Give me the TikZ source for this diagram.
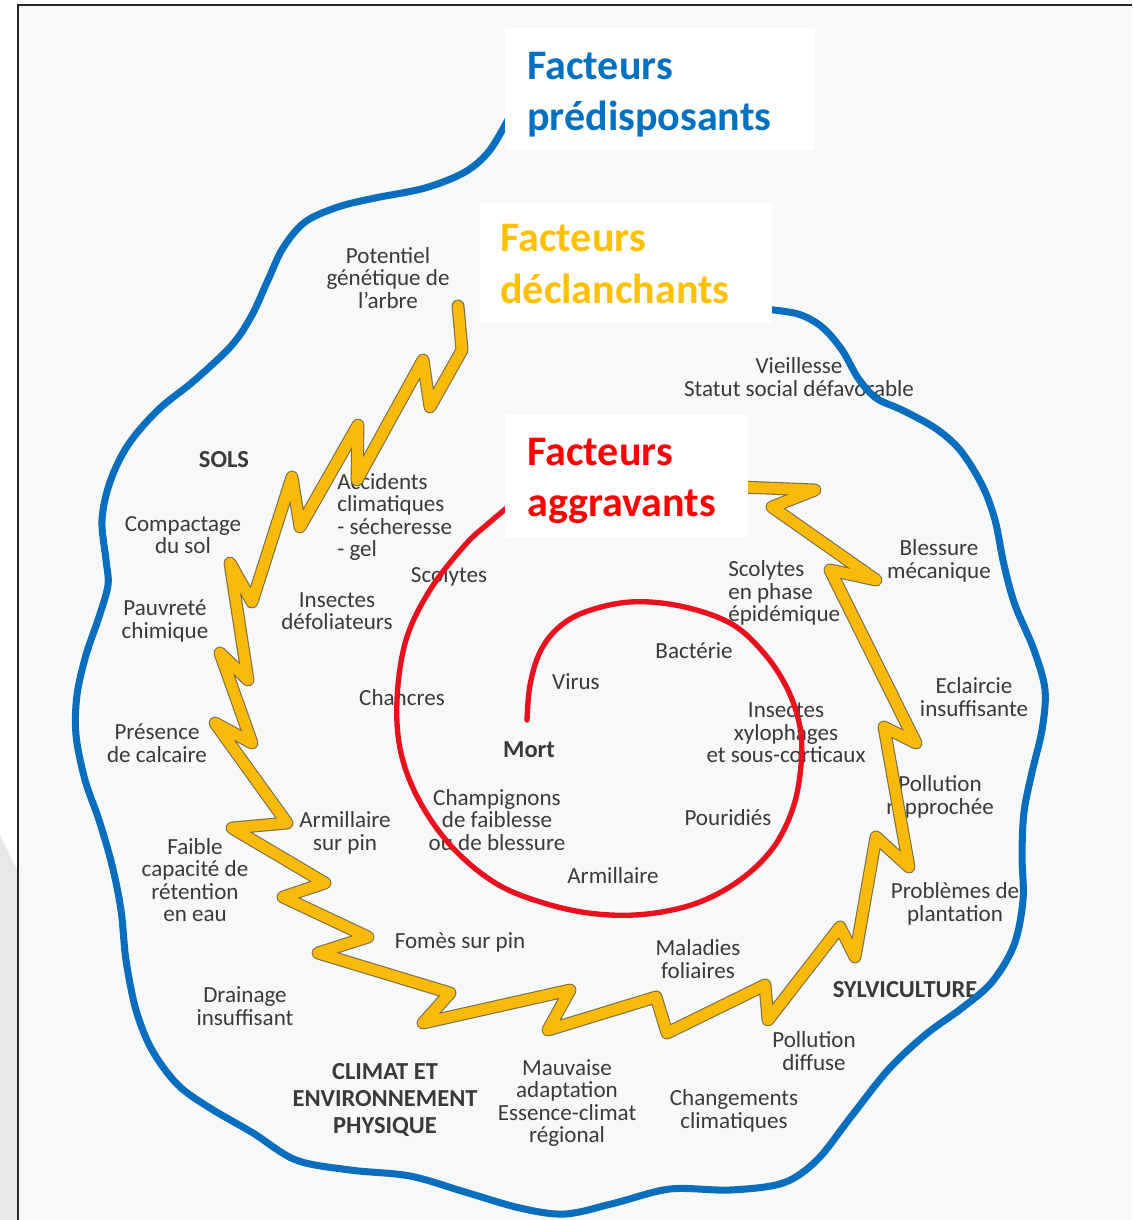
\documentclass[tikz,border=0pt]{standalone}
\usepackage{fontspec}
\setmainfont{Carlito}
\usetikzlibrary{positioning}
\definecolor{predblue}{RGB}{0,112,192}
\definecolor{declyellow}{RGB}{255,192,0}
\definecolor{aggred}{RGB}{255,0,0}
\definecolor{loopblue}{RGB}{10,110,190}
\definecolor{zigyellow}{RGB}{250,186,12}
\definecolor{zigedge}{RGB}{125,112,70}
\definecolor{spiralred}{RGB}{232,18,30}
\definecolor{inkgray}{RGB}{58,58,58}
\definecolor{paper}{RGB}{247,248,248}

\begin{document}
\begin{tikzpicture}[x=0.025cm, y=-0.025cm,
  lbl/.style={text=inkgray, align=center, inner sep=0pt, font=\fontsize{16.4}{16}\selectfont},
  catlbl/.style={lbl, font=\fontsize{17.4}{19.2}\selectfont\bfseries},
  factbox/.style={fill=white, inner sep=0pt, anchor=north west},
  facttext/.style={anchor=west, align=left, inner sep=0pt, font=\fontsize{29.9}{36.5}\selectfont\bfseries}]

  \useasboundingbox (0,0) rectangle (1132,1220);
  \fill[white] (0,0) rectangle (1132,1220);
  \fill[paper] (18,5) rectangle (1132,1220);
  \fill[black!9] (0,835) -- (18,872) -- (18,1220) -- (0,1220) -- cycle;
  \draw[line width=2pt, black!85] (18,1220) -- (18,5) -- (1132,5);

  % labels
  \node (potentiel) [lbl] at (388,278) {Potentiel\\génétique de\\l'arbre};
  \node (vieillesse) [lbl] at (799,377) {Vieillesse\\Statut social défavorable};
  \node (sols) [catlbl] at (224,460) {SOLS};
  \node (compactage) [lbl] at (183,535) {Compactage\\du sol};
  \node (accidents) [lbl, anchor=west, align=left] at (337,517) {Accidents\\climatiques\\- sécheresse\\- gel};
  \node (scolytes) [lbl] at (449,576) {Scolytes};
  \node (pauvrete) [lbl] at (165,621) {Pauvreté\\chimique};
  \node (defoliateurs) [lbl] at (337,611) {Insectes\\défoliateurs};
  \node (chancres) [lbl] at (402,698) {Chancres};
  \node (calcaire) [lbl] at (157,743) {Présence\\de calcaire};
  \node (armpin) [lbl] at (345,833) {Armillaire\\sur pin};
  \node (retention) [lbl] at (195,880) {Faible\\capacité de\\rétention\\en eau};
  \node (champignons) [lbl] at (497,820) {Champignons\\de faiblesse\\ou de blessure};
  \node (fomes) [lbl] at (460,942) {Fomès sur pin};
  \node (drainage) [lbl] at (245,1006) {Drainage\\insuffisant};
  \node (climat) [catlbl] at (385,1100) {CLIMAT ET\\ENVIRONNEMENT\\PHYSIQUE};
  \node (adaptation) [lbl] at (567,1103) {Mauvaise\\adaptation\\Essence-climat\\régional};
  \node (changements) [lbl] at (734,1111) {Changements\\climatiques};
  \node (diffuse) [lbl] at (814,1051) {Pollution\\diffuse};
  \node (sylviculture) [catlbl] at (905,990) {SYLVICULTURE};
  \node (maladies) [lbl] at (698,959) {Maladies\\foliaires};
  \node (plantation) [lbl] at (955,904) {Problèmes de\\plantation};
  \node (rapprochee) [lbl] at (940,797) {Pollution\\rapprochée};
  \node (eclaircie) [lbl] at (974,697) {Eclaircie\\insuffisante};
  \node (blessure) [lbl] at (939,561) {Blessure\\mécanique};
  \node (epidemique) [lbl, anchor=west, align=left] at (728,593) {Scolytes\\en phase\\épidémique};
  \node (bacterie) [lbl] at (694,651) {Bactérie};
  \node (virus) [lbl] at (576,682) {Virus};
  \node (mort) [catlbl] at (529,750) {Mort};
  \node (xylophages) [lbl] at (786,733) {Insectes\\xylophages\\et sous-corticaux};
  \node (pouridies) [lbl] at (728,818) {Pouridiés};
  \node (armillaire) [lbl] at (613,876) {Armillaire};

  % outer loop
  \draw[loopblue, line width=5pt, line cap=round] plot[smooth, tension=0.55] coordinates {
    (512,112) (490,150) (465,172) (425,188) (375,198) (338,207) (305,222)
    (283,248) (268,280) (252,315) (232,345) (195,380) (158,410) (128,445)
    (110,482) (102,520) (106,560) (108,585) (99,617) (86,655) (77,695)
    (76,735) (85,780) (99,820) (112,865) (121,910) (126,960) (136,1010)
    (152,1050) (178,1085) (210,1108) (253,1133) (296,1160) (350,1170)
    (410,1176) (465,1192) (520,1208) (565,1214) (615,1203) (670,1189)
    (730,1190) (783,1183) (817,1160) (850,1118) (888,1070) (925,1035)
    (962,1008) (992,982) (1014,945) (1023,900) (1022,855) (1024,812)
    (1032,772) (1042,730) (1045,690) (1034,650) (1015,605) (1004,565)
    (995,520) (982,485) (960,450) (935,428) (902,410) (876,398) (858,378)
    (842,350) (822,327) (798,314) (764,309)};

  % zigzag
  \foreach \w/\c in {9.2pt/zigedge, 7.6pt/zigyellow}
    \draw[\c, line width=\w, line join=round, line cap=round]
      (458,306) -- (462,350) -- (430,407) -- (423,360) -- (357,480)
      -- (358,425) -- (300,527) -- (292,477) -- (252,602) -- (230,563)
      -- (248,680) -- (220,653) -- (252,743) -- (215,723) -- (287,823)
      -- (232,828) -- (325,883) -- (283,897) -- (368,937) -- (318,953)
      -- (450,993) -- (423,1023) -- (570,990) -- (548,1030) -- (656,997)
      -- (667,1033) -- (765,985) -- (768,1020) -- (840,927) -- (855,957)
      -- (876,837) -- (909,867) -- (884,727) -- (916,743) -- (830,570)
      -- (876,580) -- (772,507) -- (815,490) -- (740,487);

  % spiral
  \draw[spiralred, line width=3.8pt, line cap=round] plot[smooth, tension=0.6] coordinates {
    (527,720) (530,685) (540,652) (558,628) (585,612) (630,602) (680,606)
    (730,623) (763,652) (787,688) (800,727) (801,765) (793,808) (773,848)
    (740,880) (697,903) (647,914) (597,914) (547,904) (497,884) (453,848)
    (420,802) (401,753) (397,700) (406,640) (430,590) (465,545) (490,522)
    (514,502)};

  % factor boxes
  \node (predbox) [factbox, minimum width=7.75cm, minimum height=3.05cm] at (505,28) {};
  \node (predtext) [facttext, text=predblue] at (527,95) {Facteurs\\prédisposants};
  \node (declbox) [factbox, minimum width=7.3cm, minimum height=3cm] at (480,203) {};
  \node (decltext) [facttext, text=declyellow] at (500,264) {Facteurs\\déclanchants};
  \node (aggbox) [factbox, minimum width=6.075cm, minimum height=3.05cm] at (505,415) {};
  \node (aggtext) [facttext, text=aggred] at (527,481) {Facteurs\\aggravants};
\end{tikzpicture}
\end{document}
